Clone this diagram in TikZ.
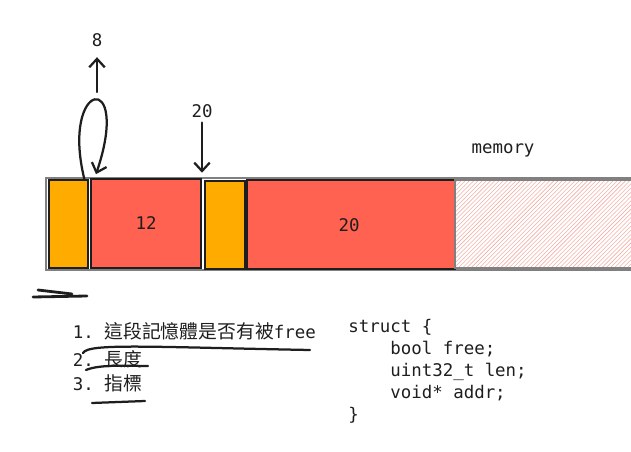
\documentclass[tikz,border=0pt]{standalone}
\usepackage{fontspec}
\setmonofont{DejaVu Sans Mono}
\newfontfamily\cjk[Scale=1.08]{Noto Sans CJK TC}
\usetikzlibrary{positioning, fit, patterns, arrows.meta}

\definecolor{hdrorange}{HTML}{FFAB00}
\definecolor{blkred}{HTML}{FF6250}
\definecolor{hatchpink}{HTML}{F2B0A6}
\definecolor{ink}{HTML}{1E1E1E}

\newcommand{\ind}{\hphantom{xxxx}}

\tikzset{
  seg/.style={draw=ink, line width=0.9pt, inner sep=0pt},
  hdr/.style={seg, fill=hdrorange},
  blk/.style={seg, fill=blkred},
  lbl/.style={font=\ttfamily\fontsize{12.4}{15.6}\selectfont, text=ink},
  pen/.style={draw=ink, line width=1.6pt, line cap=round},
}

\begin{document}
\begin{tikzpicture}[x=0.025cm, y=-0.025cm, >={Straight Barb[length=6pt,width=11pt]}]
    \useasboundingbox (0,0) rectangle (631,452);

    % memory bar
    \node[draw=gray, line width=0.8pt, inner sep=0pt, fit={(46,178) (634,270)}] (mem) {};
    \node[hdr, fit={(49,180) (88,268)}] (hdra) {};
    \node[blk, fit={(91,179) (201,268)}] (blka) {};
    \node[hdr, fit={(205,181) (245,269)}] (hdrb) {};
    \node[blk, fit={(247,180) (455,269)}] (blkb) {};
    \node[seg, draw=gray, pattern=north east lines, pattern color=hatchpink, fit={(455,180) (634,268)}] (rest) {};
    \node[lbl] (lena) at (blka) {12};
    \node[lbl] (lenb) at (349,225) {20};
    \node[lbl] (memlbl) at (503,150) {memory};

    % sizes
    \node[lbl] (eight) at (97,40) {8};
    \coordinate (upfrom) at (97,92);
    \draw[pen,->,shorten >=4pt] (upfrom) -- (eight);
    \node[lbl] (twenty) at (202,111) {20};
    \draw[pen,->,shorten >=4pt] (twenty) -- (twenty |- blka.north);
    \draw[pen,->] ([xshift=-3pt]hdra.north east) .. controls (60,80) and (132,68) .. ([xshift=4pt,yshift=3pt]blka.north west);

    \draw[pen, line width=2pt] (38,290) -- (72,294);
    \draw[pen, line width=2pt] (33,297) -- (87,296);

    % header fields
    \node[lbl, anchor=base west] (itema) at (68,339) {1. {\cjk 這段記憶體是否有被}free};
    \node[lbl, anchor=base west] (itemb) at (68,366) {2. {\cjk 長度}};
    \node[lbl, anchor=base west] (itemc) at (68,390) {3. {\cjk 指標}};
    \draw[pen] (83,353) .. controls (88,343) and (150,347) .. (310,350);
    \draw[pen] (86,370) .. controls (100,364) and (130,366) .. (148,366);
    \draw[pen] (92,403) -- (145,401);

    \node[lbl, anchor=north west, inner sep=0pt, align=left] (code) at (348,319)
        {struct \{\\ \ind bool free;\\ \ind uint32\_t len;\\ \ind void* addr;\\ \}};
\end{tikzpicture}
\end{document}
